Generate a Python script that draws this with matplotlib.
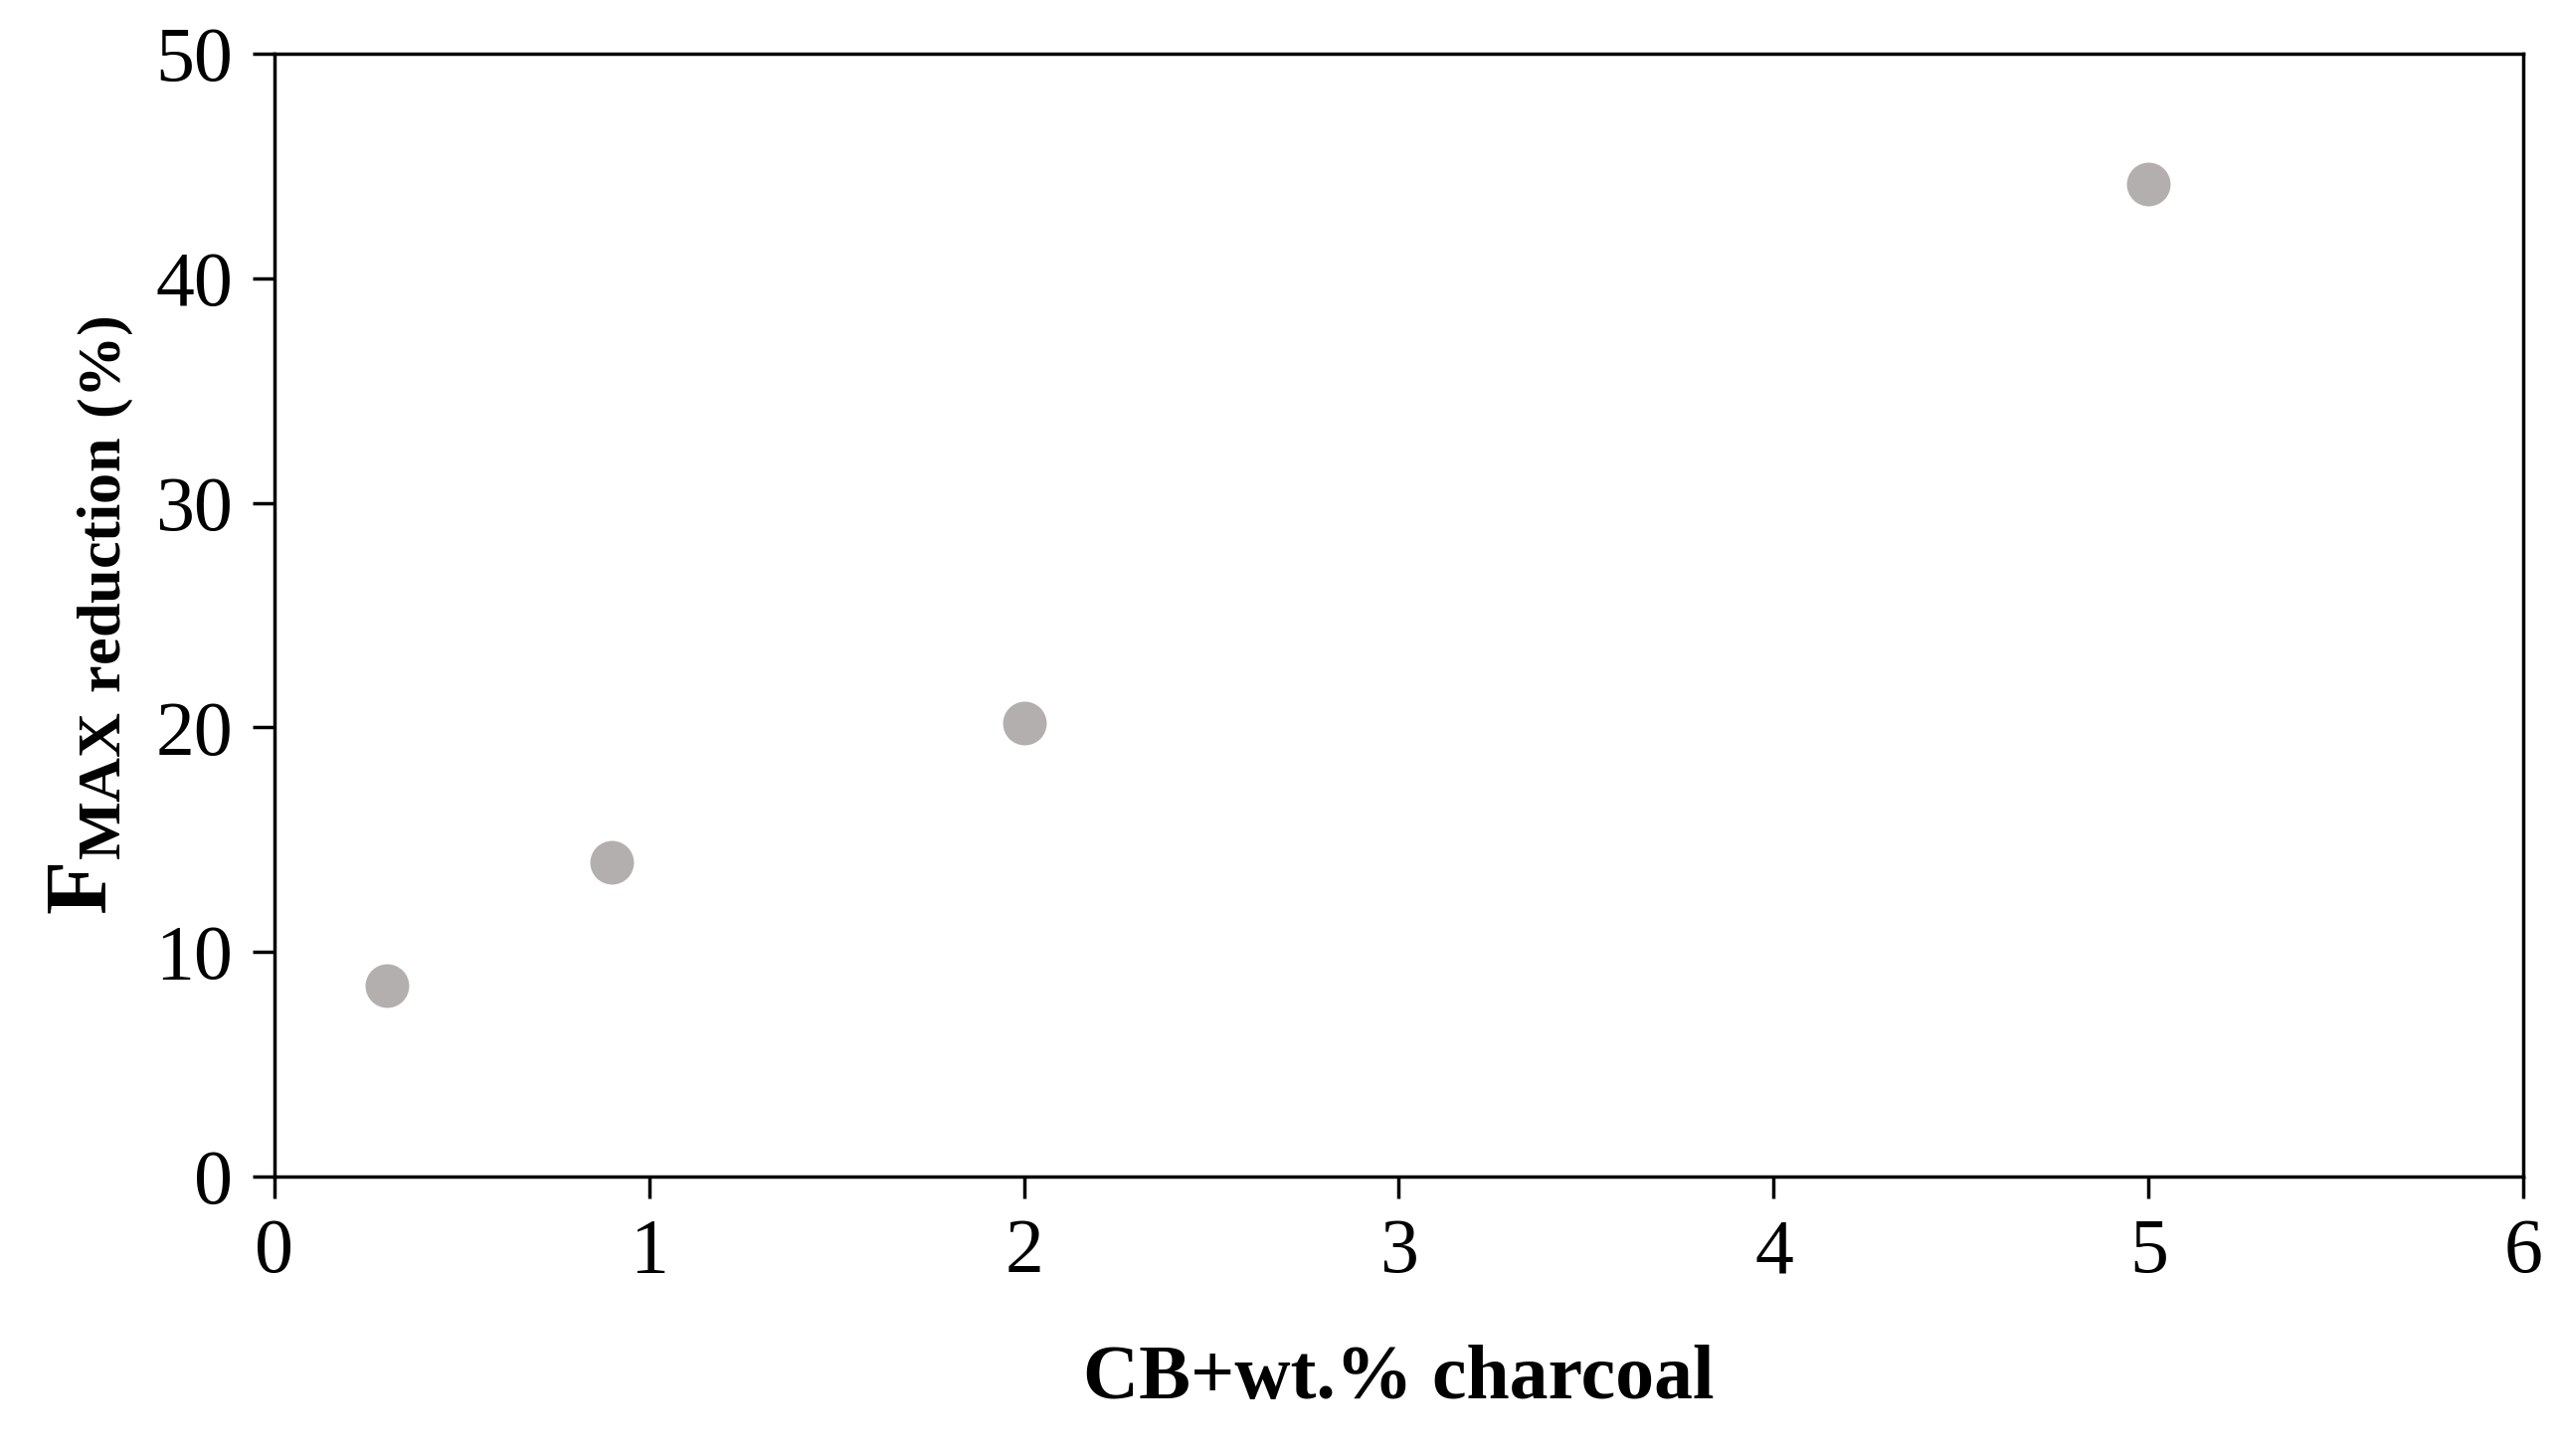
import matplotlib
matplotlib.use("Agg")
import matplotlib.pyplot as plt

x_vals = [0.3, 0.9, 2.0, 5.0]
y_vals = [8.5, 14.0, 20.2, 44.2]

plt.rcParams['font.family'] = ['Liberation Serif', 'DejaVu Serif']
plt.rcParams['mathtext.fontset'] = 'custom'
plt.rcParams['mathtext.rm'] = 'Liberation Serif'
plt.rcParams['mathtext.bf'] = 'Liberation Serif:bold'

fig = plt.figure(figsize=(25.76, 14.64), dpi=100)
ax = fig.add_axes([0.107, 0.192, 0.878, 0.771])
ax.scatter(x_vals, y_vals, s=1000, color='#b3afaf', zorder=3, linewidths=0)
ax.set_xlim(0, 6)
ax.set_ylim(0, 50)
ax.set_xticks(range(0, 7))
ax.set_yticks(range(0, 51, 10))
ax.tick_params(labelsize=56, width=2.5, length=16, direction='out', pad=14)
for s in ax.spines.values():
    s.set_linewidth(2.5)
ax.set_xlabel('CB+wt.% charcoal', fontsize=56, fontweight='bold', labelpad=40)
ax.set_ylabel(r'$\mathbf{F}_{\mathbf{MAX\ reduction\ (\%)}}$', fontsize=64, labelpad=14)
fig.savefig('out.png', dpi=100)
